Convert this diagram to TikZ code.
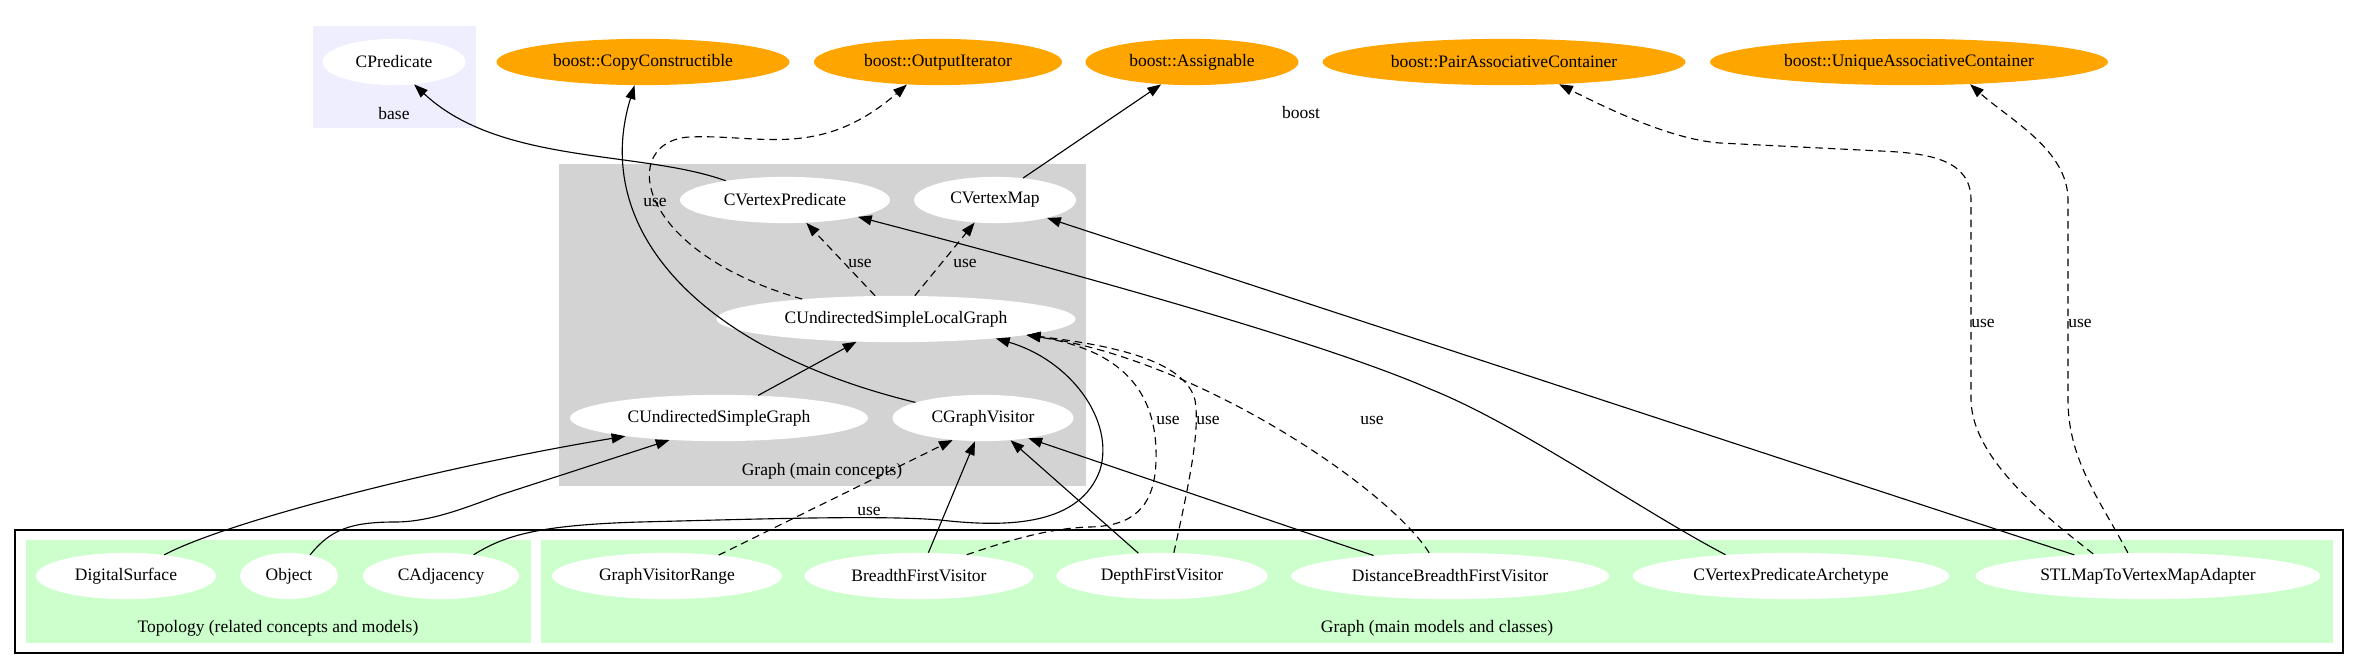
\documentclass[tikz,border=0pt]{standalone}
\usepackage{fontspec}
\setmainfont{Liberation Serif}
\usepackage{tikz}
\usetikzlibrary{arrows.meta}
\usetikzlibrary{shapes.geometric}
\definecolor{baseblue}{HTML}{EEEEFF}
\definecolor{cgray}{HTML}{D3D3D3}
\definecolor{cgreen}{HTML}{CCFFCC}
\definecolor{borange}{HTML}{FFA500}
\tikzset{>={Triangle[length=11pt, width=8pt]}}
\tikzstyle{con} = [ellipse, draw=none, fill=white, inner sep = 0, minimum height = 37pt, font=\fontsize{14}{16}\selectfont]
\tikzstyle{bst} = [con, fill=borange]
\tikzstyle{lbl} = [draw=none, inner sep = 0, font=\fontsize{14}{16}\selectfont]
\tikzstyle{dep} = [->, line width = 0.9pt]
\tikzstyle{uses} = [->, line width = 0.9pt, dash pattern = on 6pt off 4pt]

\begin{document}
\begin{tikzpicture}[x=0.8pt, y=-0.8pt]
\useasboundingbox (0, 0) rectangle (2359, 669);
\fill [baseblue] (313, 26) rectangle (476, 128);
\fill [cgray] (559, 164) rectangle (1086, 486);
\draw [line width = 1pt, fill=white] (15, 530) rectangle (2343, 653);
\fill [cgreen] (26, 540) rectangle (531, 643);
\fill [cgreen] (541, 540) rectangle (2333, 643);

\node [lbl] (base) at (394, 114) {base};
\node [lbl] (boost) at (1301, 113) {boost};
\node [lbl] (gconc) at (822, 471) {Graph (main concepts)};
\node [lbl] (topo) at (278, 628) {Topology (related concepts and models)};
\node [lbl] (gmod) at (1437, 628) {Graph (main models and classes)};

\node [con, minimum width = 114.4pt] (cpred) at (394, 62) {CPredicate};
\node [bst, minimum width = 234.4pt] (copyc) at (643, 62) {boost::CopyConstructible};
\node [bst, minimum width = 198.4pt] (outit) at (938, 62) {boost::OutputIterator};
\node [bst, minimum width = 170.4pt] (assign) at (1192, 62) {boost::Assignable};
\node [bst, minimum width = 290.4pt] (pairac) at (1504, 62) {boost::PairAssociativeContainer};
\node [bst, minimum width = 318.4pt] (uniqac) at (1909, 62) {boost::UniqueAssociativeContainer};

\node [con, minimum width = 168pt] (cvpred) at (785, 200) {CVertexPredicate};
\node [con, minimum width = 129.6pt] (cvmap) at (995, 200) {CVertexMap};
\node [con, minimum width = 287.2pt] (cuslg) at (896, 319) {CUndirectedSimpleLocalGraph};
\node [con, minimum width = 238.4pt] (cusg) at (719, 418) {CUndirectedSimpleGraph};
\node [con, minimum width = 144.8pt] (cgv) at (983, 418) {CGraphVisitor};

\node [con, minimum width = 144pt] (digsurf) at (126, 576) {DigitalSurface};
\node [con, minimum width = 78.4pt] (object) at (289, 576) {Object};
\node [con, minimum width = 124.8pt] (cadj) at (441, 576) {CAdjacency};
\node [con, minimum width = 184pt] (gvrange) at (667, 576) {GraphVisitorRange};
\node [con, minimum width = 183.2pt] (bfv) at (919, 576) {BreadthFirstVisitor};
\node [con, minimum width = 168.8pt] (dfv) at (1162, 576) {DepthFirstVisitor};
\node [con, minimum width = 254.4pt] (dbfv) at (1450, 576) {DistanceBreadthFirstVisitor};
\node [con, minimum width = 253.6pt] (cvparch) at (1791, 576) {CVertexPredicateArchetype};
\node [con, minimum width = 276pt] (stlmap) at (2148, 576) {STLMapToVertexMapAdapter};

\draw [dep] (cvpred.162) .. controls (640, 150) and (500, 165) .. (cpred.312);
\draw [dep] (cgv.167) .. controls (700, 350) and (590, 230) .. (copyc.250);
\draw [uses] (cuslg.168) .. controls (630, 250) and (620, 140) .. (690, 137) .. controls (760, 134) and (820, 160) .. (outit.216);
\draw [uses] (cuslg.132) -- (cvpred.313);
\draw [uses] (cuslg.51) -- (cvmap.228);
\draw [dep] (cvmap.38) -- (assign.216);
\draw [dep] (cusg.30) -- (cuslg.210);
\draw [dep] (cvparch.162) .. controls (1640, 510) and (1520, 425) .. (1430, 389) .. controls (1330, 345) and (1100, 280) .. (cvpred.347);
\draw [dep] (stlmap.164) -- (cvmap.341);
\draw [uses] (stlmap.158) .. controls (2050, 520) and (1972, 460) .. (1971, 400) -- (1971, 200) .. controls (1971, 160) and (1930, 153) .. (1880, 151) -- (1720, 143) .. controls (1680, 140) and (1630, 120) .. (pairac.338);
\draw [uses] (stlmap.131) .. controls (2100, 500) and (2068, 460) .. (2068, 400) -- (2068, 200) .. controls (2068, 150) and (2010, 120) .. (uniqac.340);
\draw [dep] (dbfv.165) -- (cgv.336);
\draw [dep] (dfv.136) -- (cgv.321);
\draw [dep] (bfv.68) -- (cgv.251);
\draw [uses] (gvrange.22) -- (cgv.216);
\draw [dep] (cadj.33) .. controls (505, 535) and (540, 525) .. (640, 522) .. controls (760, 519) and (880, 515) .. (940, 520) .. controls (1010, 528) and (1080, 525) .. (1100, 470) .. controls (1115, 420) and (1070, 360) .. (cuslg.349);
\draw [dep] (digsurf.29) .. controls (230, 520) and (450, 465) .. (cusg.191);
\draw [dep] (object.45) .. controls (330, 530) and (350, 522) .. (395, 522) .. controls (430, 522) and (465, 508) .. (500, 495) -- (cusg.204);
\draw [uses] (bfv.24) .. controls (1010, 540) and (1050, 528) .. (1090, 527) .. controls (1130, 526) and (1155, 510) .. (1156, 460) .. controls (1158, 390) and (1120, 350) .. (cuslg.353);
\draw [uses] (dfv.63) .. controls (1190, 480) and (1200, 430) .. (1195, 400) .. controls (1185, 360) and (1110, 345) .. (cuslg.353);
\draw [uses] (dbfv.132) .. controls (1390, 490) and (1200, 360) .. (cuslg.353);

\node [lbl] (u1) at (655, 202) {use};
\node [lbl] (u2) at (860, 263) {use};
\node [lbl] (u3) at (965, 263) {use};
\node [lbl] (u4) at (869, 511) {use};
\node [lbl] (u5) at (1168, 420) {use};
\node [lbl] (u6) at (1208, 420) {use};
\node [lbl] (u7) at (1372, 420) {use};
\node [lbl] (u8) at (1983, 323) {use};
\node [lbl] (u9) at (2080, 323) {use};
\end{tikzpicture}
\end{document}
